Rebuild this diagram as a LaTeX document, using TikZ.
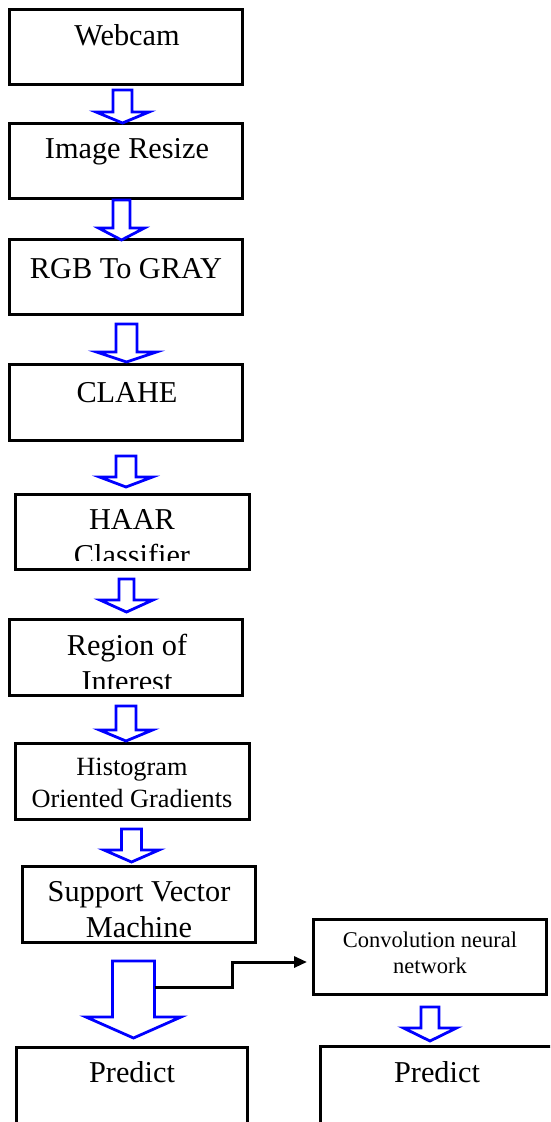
\documentclass[tikz,border=0pt]{standalone}
\usepackage{fontspec}
\setmainfont{Liberation Serif}
\usetikzlibrary{arrows.meta}

\tikzset{
  pics/hollowdown/.style args={#1/#2/#3/#4}{code={
    \path[flowline] (-#1,0) -- (#1,0) -- (#1,#3) -- (#2,#3) -- (0,#4)
                    -- (-#2,#3) -- (-#1,#3) -- cycle;}}
}

\begin{document}
\begin{tikzpicture}[x=1pt, y=-1pt, >={Triangle[length=13pt,width=11pt]},
  stagebox/.style={draw, line width=3pt, minimum width=233pt,
                   minimum height=75pt, inner sep=0pt},
  stagetext/.style={anchor=base, align=center, inner sep=0pt,
                    font=\fontsize{30.3}{35.5}\selectfont},
  smalltext/.style={stagetext, font=\fontsize{26.3}{32}\selectfont},
  tinytext/.style={stagetext, font=\fontsize{22.5}{26}\selectfont},
  flowline/.style={draw=blue, fill=white, line width=2.8pt, line join=miter},
  link/.style={->, line width=3pt, shorten >=5pt}]
  \useasboundingbox (0,0) rectangle (550,1122);
  \clip (0,0) rectangle (550,1122);
  % cajas de la cadena principal
  \node[stagebox] (webcam) at (126,47) {};
  \node[stagebox] (resize) at (126,161) {};
  \node[stagebox] (rgb)    at (126,277) {};
  \node[stagebox, minimum height=76pt] (clahe) at (126,402.5) {};
  \node[stagebox, minimum width=234pt] (haar) at (132.5,532) {};
  \node[stagebox, minimum height=76pt] (roi) at (126,657.5) {};
  \node[stagebox, minimum width=234pt, minimum height=76pt] (hog) at (132.5,781.5) {};
  \node[stagebox, minimum height=76pt] (svm) at (139,904.5) {};
  \node[stagebox, minimum width=231pt, minimum height=101pt] (predsvm) at (132,1098) {};
  % rama de la red convolucional
  \node[stagebox] (cnn) at (430,957) {};
  \node[stagebox, minimum width=258pt, minimum height=102pt] (predcnn) at (449.5,1097.5) {};
  % textos
  \node[stagetext] (webcam-t) at (127,45)  {Webcam};
  \node[stagetext] (resize-t) at (127,158) {Image Resize};
  \node[stagetext] (rgb-t)    at (126,278) {RGB To GRAY};
  \node[stagetext] (clahe-t)  at (127,402) {CLAHE};
  \begin{scope}
    \clip (14,493) rectangle (251,560);
    \node[stagetext] (haar-t) at (132,565) {HAAR\\Classifier};
  \end{scope}
  \begin{scope}
    \clip (8,618) rectangle (244,688);
    \node[stagetext] (roi-t) at (127,691) {Region of\\Interest};
  \end{scope}
  \node[smalltext] (hog-t) at (132,807) {Histogram\\Oriented Gradients};
  \node[stagetext] (svm-t) at (139,937) {Support Vector\\Machine};
  \node[stagetext] (predsvm-t) at (132,1082) {Predict};
  \node[tinytext]  (cnn-t) at (430,973) {Convolution neural\\network};
  \node[stagetext] (predcnn-t) at (437,1082) {Predict};
  % flechas huecas azules
  \foreach \x/\y/\s/\w/\h/\l in {122.5/90/9.5/26.5/22/33, 121.5/200/8.5/23/28/40,
      126.5/324/10.5/30/28/38, 126/456/10/26.5/21/31, 126.5/579/7.5/26.5/21/33,
      126/706/10/26.5/24/35, 131.5/829/10/27.5/21/33, 133.5/961/21/47.5/56/77,
      430/1007/9/26.5/21/34}
    \pic at (\x,\y) {hollowdown={\s/\w/\h/\l}};
  % salto hacia la CNN
  \coordinate (split) at (155,987);
  \draw[link] (split) -- ++(77,0) |- ([yshift=-5pt]cnn.west);
\end{tikzpicture}
\end{document}
